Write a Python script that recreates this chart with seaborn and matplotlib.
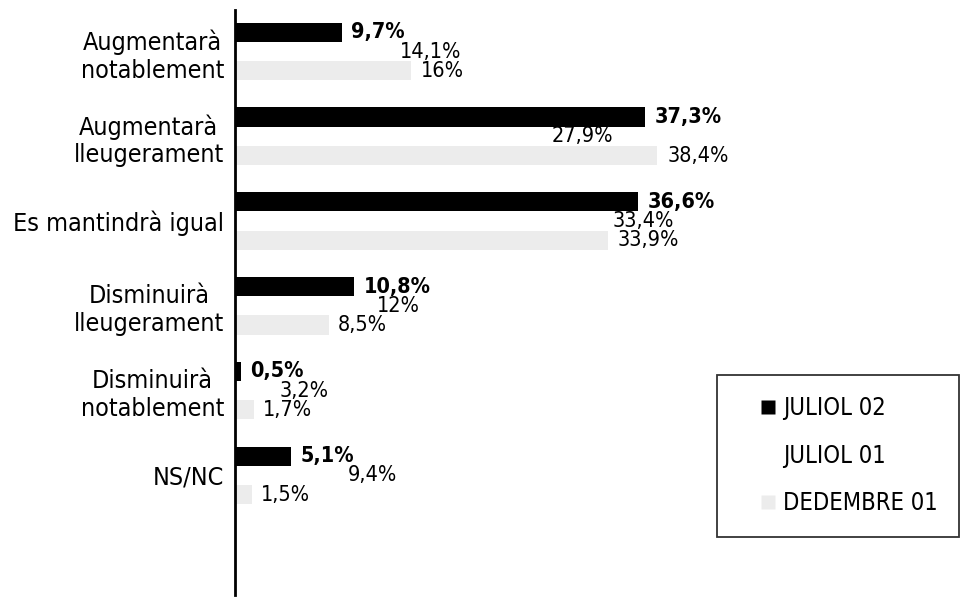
"""Expectatives: grouped horizontal bars, three survey waves."""

import matplotlib
matplotlib.use("Agg")
import matplotlib.pyplot as plt
from matplotlib.lines import Line2D
import pandas as pd
import seaborn as sns

categories = ['Augmentarà\nnotablement', 'Augmentarà\nlleugerament',
              'Es mantindrà igual', 'Disminuirà\nlleugerament',
              'Disminuirà\nnotablement', 'NS/NC']
series = ['JULIOL 02', 'JULIOL 01', 'DEDEMBRE 01']
juliol_02 = [9.7, 37.3, 36.6, 10.8, 0.5, 5.1]
juliol_01 = [14.1, 27.9, 33.4, 12, 3.2, 9.4]
dedembre_01 = [16, 38.4, 33.9, 8.5, 1.7, 1.5]

colors = ['#000000', '#ffffff', '#ececec']

sns.set_style('white')
plt.rcParams['font.family'] = ['DejaVu Sans']
plt.rcParams['font.stretch'] = 'condensed'
plt.rcParams['text.color'] = 'black'
plt.rcParams['ytick.color'] = 'black'

# long format for seaborn
rows = []
for name, values in zip(series, [juliol_02, juliol_01, dedembre_01]):
    for cat, v in zip(categories, values):
        rows.append({'cat': cat, 'val': v, 'serie': name})
df = pd.DataFrame(rows)

fig = plt.figure(figsize=(9.73, 5.99), dpi=100)
ax = fig.add_axes([235 / 973, 4 / 599, (973 - 235) / 973, 585 / 599])

sns.barplot(data=df, y='cat', x='val', hue='serie', orient='h',
            order=categories, hue_order=series, palette=colors,
            saturation=1, width=0.68, errorbar=None, linewidth=0,
            legend=False, ax=ax)

# value labels, comma as decimal mark
def fmt(v):
    return f"{v:g}".replace('.', ',') + '%'

for i, cont in enumerate(ax.containers):
    vals = [juliol_02, juliol_01, dedembre_01][i]
    ax.bar_label(cont, labels=[fmt(v) for v in vals], padding=7,
                 fontsize=15.5, fontweight='bold' if i == 0 else 'normal',
                 color='black')

ax.set_xlim(0, (973 - 235) / 11)
ax.set_ylim(6.41, -0.49)
ax.set_xlabel('')
ax.set_ylabel('')
ax.set_xticks([])
ax.tick_params(axis='y', length=0, pad=8, labelsize=18, labelcolor='black')
for lbl in ax.get_yticklabels():
    lbl.set_horizontalalignment('right')
    lbl.set_multialignment('center')

for side in ['top', 'right', 'bottom']:
    ax.spines[side].set_visible(False)
ax.spines['left'].set_color('black')
ax.spines['left'].set_linewidth(2)

# legend box, bottom right
handles = [Line2D([], [], ls='', marker='s', markersize=9.5,
                  markerfacecolor=c, markeredgecolor='none') for c in colors]
leg = fig.legend(handles, series, loc='upper left',
                 bbox_to_anchor=(717 / 973, 1 - 375 / 599),
                 fontsize=17, frameon=True, fancybox=False,
                 borderpad=0.9, labelspacing=1.0, handlelength=2.5,
                 handletextpad=-0.6, borderaxespad=0)
leg.get_frame().set_edgecolor('black')
leg.get_frame().set_linewidth(1.3)

fig.savefig('out.png', dpi=100, facecolor='white')
